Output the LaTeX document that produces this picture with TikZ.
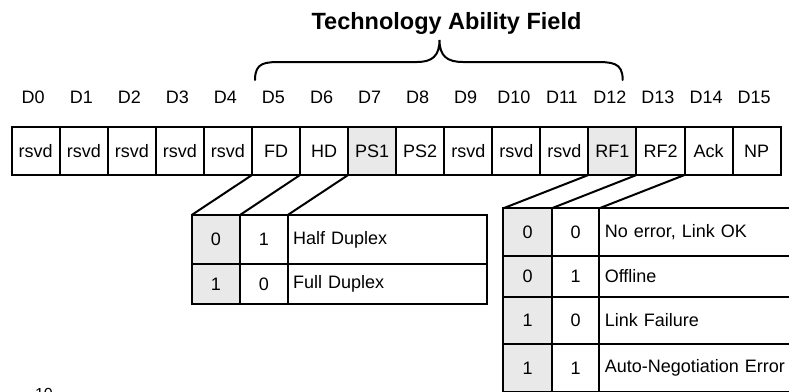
\documentclass[tikz,border=0pt]{standalone}
\usepackage{fontspec}
\setmainfont{Liberation Sans}
\definecolor{cellgray}{RGB}{233,233,233}
\begin{document}
\begin{tikzpicture}[x=1pt,y=-1pt,
  cell/.style={draw, line width=2pt, inner sep=0pt, outer sep=0pt, anchor=north west, font=\fontsize{18}{20}\selectfont},
  bitcell/.style={cell, minimum width=48.06pt, minimum height=48pt},
  lab/.style={font=\fontsize{18}{20}\selectfont, inner sep=0pt},
  txtcell/.style={cell, inner xsep=5.5pt, align=left},
  conn/.style={line width=2pt},
  bracepath/.style={line width=2pt, line cap=round}]
\clip (0,0) rectangle (789,391);
% title
\node[font=\fontsize{23.5}{26}\selectfont\bfseries, inner sep=0pt, anchor=base] (title) at (446.5,29) {Technology Ability Field};
% brace
\coordinate (bl) at (255,80);
\coordinate (br) at (622.7,80);
\coordinate (bt) at (439.5,40);
\draw[bracepath] (bl) .. controls (255,62) and (265,62) .. (283,62) -- (417,62)
  .. controls (432,62) and (439.5,56) .. (bt)
  .. controls (439.5,56) and (447,62) .. (463,62) -- (593,62)
  .. controls (612,62) and (622.7,62) .. (br);
% bit labels
\foreach \i in {0,...,15}{
  \node[lab] (d\i) at ({11.7+48.06*\i+21.5},97) {D\i};
}
% main row
\foreach \i/\t/\f in {0/rsvd/white,1/rsvd/white,2/rsvd/white,3/rsvd/white,4/rsvd/white,
  5/FD/white,6/HD/white,7/PS1/cellgray,8/PS2/white,9/rsvd/white,10/rsvd/white,11/rsvd/white,
  12/RF1/cellgray,13/RF2/white,14/Ack/white,15/NP/white}{
  \node[bitcell, fill=\f] (c\i) at ({11.7+48.06*\i},127) {\t};
}
% left table
\node[cell, fill=cellgray, minimum width=48.3pt, minimum height=49.3pt] (la0) at (191.7,215) {0};
\node[cell, fill=white, minimum width=47.7pt, minimum height=49.3pt] (lb0) at (240,215) {1};
\node[txtcell, fill=white, text width=188.3pt, minimum height=49.3pt] (lc0) at (287.7,215) {Half Duplex};
\node[cell, fill=cellgray, minimum width=48.3pt, minimum height=40pt] (la1) at (191.7,264.3) {1};
\node[cell, fill=white, minimum width=47.7pt, minimum height=40pt] (lb1) at (240,264.3) {0};
\node[txtcell, fill=white, text width=188.3pt, minimum height=40pt] (lc1) at (287.7,264.3) {Full Duplex};
% right table
\node[cell, fill=cellgray, minimum width=48.4pt, minimum height=47.7pt] (ra0) at (503.3,208.3) {0};
\node[cell, fill=white, minimum width=47.6pt, minimum height=47.7pt] (rb0) at (551.7,208.3) {0};
\node[txtcell, fill=white, text width=219pt, minimum height=47.7pt] (rc0) at (599.3,208.3) {No error, Link OK};
\node[cell, fill=cellgray, minimum width=48.4pt, minimum height=40.7pt] (ra1) at (503.3,256) {0};
\node[cell, fill=white, minimum width=47.6pt, minimum height=40.7pt] (rb1) at (551.7,256) {1};
\node[txtcell, fill=white, text width=219pt, minimum height=40.7pt] (rc1) at (599.3,256) {Offline};
\node[cell, fill=cellgray, minimum width=48.4pt, minimum height=47.3pt] (ra2) at (503.3,296.7) {1};
\node[cell, fill=white, minimum width=47.6pt, minimum height=47.3pt] (rb2) at (551.7,296.7) {0};
\node[txtcell, fill=white, text width=219pt, minimum height=47.3pt] (rc2) at (599.3,296.7) {Link Failure};
\node[cell, fill=cellgray, minimum width=48.4pt, minimum height=48pt] (ra3) at (503.3,344) {1};
\node[cell, fill=white, minimum width=47.6pt, minimum height=48pt] (rb3) at (551.7,344) {1};
\node[txtcell, fill=white, text width=219pt, minimum height=48pt] (rc3) at (599.3,344) {Auto-Negotiation Error};
% connectors
\draw[conn] (c5.south west) -- (la0.north west);
\draw[conn] (c6.south west) -- (lb0.north west);
\draw[conn] (c7.south west) -- (lc0.north west);
\draw[conn] (c12.south west) -- (ra0.north west);
\draw[conn] (c13.south west) -- (rb0.north west);
\draw[conn] (c14.south west) -- (rc0.north west);
% page number (cut off)
\node[font=\fontsize{16}{18}\selectfont, inner sep=0pt, anchor=base] (pg) at (44,399.5) {10};
\end{tikzpicture}
\end{document}
